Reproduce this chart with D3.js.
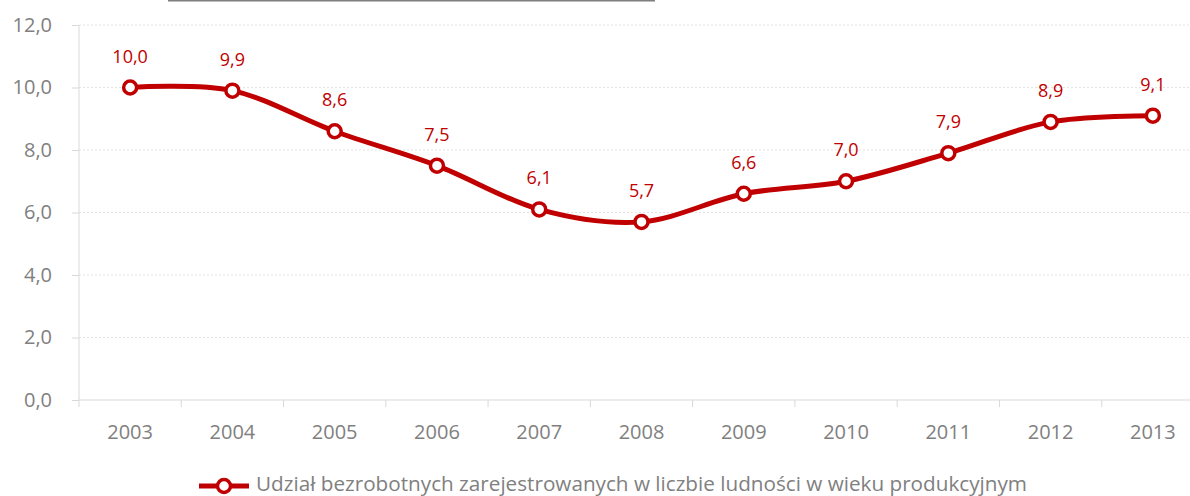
<!DOCTYPE html>
<html>
<head>
<meta charset="utf-8" />
<script src="https://d3js.org/d3.v7.min.js"></script>
<style>
  body { margin: 0; background: #fff; }
  text { font-family: "Open Sans", sans-serif; }
</style>
</head>
<body>
<div id="chart"></div>
<script>
const years = ["2003","2004","2005","2006","2007","2008","2009","2010","2011","2012","2013"];
const values = [10.0, 9.9, 8.6, 7.5, 6.1, 5.7, 6.6, 7.0, 7.9, 8.9, 9.1];
const yTicks = [0, 2, 4, 6, 8, 10, 12];
const seriesName = "Udział bezrobotnych zarejestrowanych w liczbie ludności w wieku produkcyjnym";

const W = 1190, H = 496;
const margin = {top: 25, left: 79, bottom: 96};
const plotW = 1125;   // extends a little past the window, like the reference
const red = "#c00000";
const fmt = v => v.toFixed(1).replace(".", ",");

const svg = d3.select("#chart").append("svg")
    .attr("width", W).attr("height", H);

// stray title underline at the very top
svg.append("rect").attr("x", 168).attr("y", 0).attr("width", 487).attr("height", 1.5)
    .attr("fill", "#7f7f7f");

const x = d3.scaleBand().domain(years).range([margin.left, margin.left + plotW]);
const y = d3.scaleLinear().domain([0, 12]).range([H - margin.bottom, margin.top]);

// gridlines
svg.append("g").selectAll("line")
    .data(yTicks.filter(d => d > 0))
    .join("line")
    .attr("x1", margin.left).attr("x2", margin.left + plotW)
    .attr("y1", d => y(d)).attr("y2", d => y(d))
    .attr("stroke", "#e3e3e3").attr("stroke-width", 1).attr("stroke-dasharray", "2,2");

// y axis
const yAxis = svg.append("g")
    .attr("transform", `translate(${margin.left},0)`)
    .call(d3.axisLeft(y).tickValues(yTicks).tickFormat(fmt).tickSize(7).tickPadding(20));
yAxis.selectAll("line, path").attr("stroke", "#d9d9d9");
yAxis.select(".domain").attr("d", `M0,${y(0)}V${y(12)}`);
yAxis.selectAll("text").attr("fill", "#808080").attr("font-size", 20)
    .attr("font-family", "Open Sans");

// x axis with ticks between categories
const xAxis = svg.append("g").attr("transform", `translate(0,${y(0)})`);
xAxis.append("line").attr("x1", margin.left).attr("x2", margin.left + plotW)
    .attr("stroke", "#d9d9d9");
xAxis.selectAll(".tk").data(years.concat(["end"])).join("line")
    .attr("class", "tk")
    .attr("x1", (d, i) => margin.left + i * x.bandwidth())
    .attr("x2", (d, i) => margin.left + i * x.bandwidth())
    .attr("y1", 0).attr("y2", 7).attr("stroke", "#d9d9d9");
xAxis.selectAll("text").data(years).join("text")
    .attr("x", d => x(d) + x.bandwidth() / 2)
    .attr("y", 39)
    .attr("text-anchor", "middle")
    .attr("fill", "#808080").attr("font-size", 20)
    .text(d => d);

// the series
const pts = years.map((d, i) => ({year: d, v: values[i]}));
const cx = d => x(d.year) + x.bandwidth() / 2;

svg.append("path").datum(pts)
    .attr("d", d3.line().x(cx).y(d => y(d.v)).curve(d3.curveCardinal.tension(0)))
    .attr("fill", "none").attr("stroke", red).attr("stroke-width", 5);

svg.selectAll(".dot").data(pts).join("circle")
    .attr("class", "dot")
    .attr("cx", cx).attr("cy", d => y(d.v)).attr("r", 6.5)
    .attr("fill", "#fff").attr("stroke", red).attr("stroke-width", 3.5);

svg.selectAll(".lbl").data(pts).join("text")
    .attr("class", "lbl")
    .attr("x", cx).attr("y", d => y(d.v) - 25)
    .attr("text-anchor", "middle")
    .attr("fill", red).attr("font-size", 18)
    .text(d => fmt(d.v));

// legend
const lg = svg.append("g").attr("transform", "translate(199,486)");
lg.append("line").attr("x1", 0).attr("x2", 50).attr("stroke", red).attr("stroke-width", 5);
lg.append("circle").attr("cx", 25).attr("r", 6.5)
    .attr("fill", "#fff").attr("stroke", red).attr("stroke-width", 3.5);
lg.append("text").attr("x", 57).attr("y", 5)
    .attr("fill", "#808080").attr("font-size", 20.7)
    .text(seriesName);
</script>
</body>
</html>
